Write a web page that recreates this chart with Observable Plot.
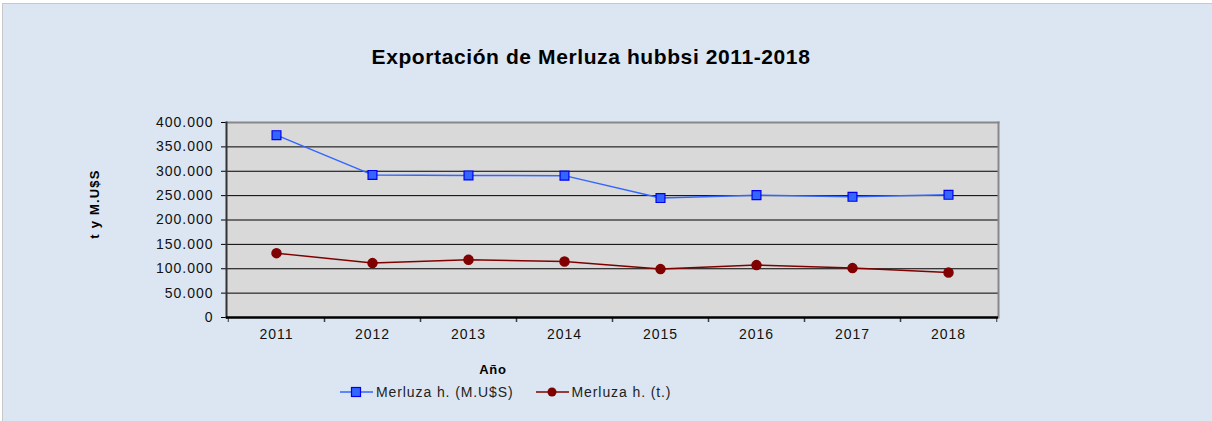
<!DOCTYPE html>
<html>
<head>
<meta charset="utf-8">
<script src="https://cdn.jsdelivr.net/npm/d3@7"></script>
<script src="https://cdn.jsdelivr.net/npm/@observablehq/plot@0.6"></script>
<style>
  html, body { margin: 0; padding: 0; background: #ffffff; }
  #wrap { position: relative; width: 1212px; height: 421px; overflow: hidden; font-family: "Liberation Sans", Arial, sans-serif; }
  #bg { position: absolute; left: 2px; top: 3px; width: 1210px; height: 418px; background: #dce6f2; border-left: 1px solid #c8c8c8; border-top: 1px solid #c8c8c8; box-sizing: border-box; }
  #title { position: absolute; left: 0; width: 1182px; top: 45px; text-align: center; font-weight: bold; font-size: 21px; letter-spacing: 0.6px; color: #000; }
  #ylab { position: absolute; left: 94px; top: 204px; transform: translate(-50%, -50%) rotate(-90deg); font-weight: bold; font-size: 13px; letter-spacing: 1.2px; white-space: nowrap; color: #000; }
  #chart { position: absolute; left: 0; top: 100px; }
  #xlab { position: absolute; left: 493px; top: 369px; transform: translate(-50%, -50%); font-weight: bold; font-size: 13px; letter-spacing: 0.8px; color: #000; }
  #legend { position: absolute; left: 340px; top: 384px; font-size: 14px; letter-spacing: 0.9px; color: #222; display: flex; align-items: center; }
  .item { display: flex; align-items: center; margin-right: 22px; }
</style>
</head>
<body>
<div id="wrap">
  <div id="bg"></div>
  <div id="title">Exportación de Merluza hubbsi 2011-2018</div>
  <div id="ylab">t y M.U$S</div>
  <div id="chart"></div>
  <div id="xlab">Año</div>
  <div id="legend"></div>
</div>
<script>
const years = ["2011","2012","2013","2014","2015","2016","2017","2018"];
const valueMUSS = [374000, 292500, 291400, 291000, 245000, 251000, 247600, 251700];
const tonnes = [132000, 111600, 118400, 115000, 99300, 107500, 101300, 92300];
const seriesNames = ["Merluza h. (M.U$S)", "Merluza h. (t.)"];
const yTicks = [0, 50000, 100000, 150000, 200000, 250000, 300000, 350000, 400000];

const blue = "#3366ff";
const blueEdge = "#0000ee";
const red = "#800000";

const rows = [];
years.forEach((y, i) => {
  rows.push({year: y, value: valueMUSS[i], series: seriesNames[0]});
  rows.push({year: y, value: tonnes[i], series: seriesNames[1]});
});
const blueRows = rows.filter(d => d.series === seriesNames[0]);
const redRows = rows.filter(d => d.series === seriesNames[1]);

const fmt = d3.formatLocale({decimal: ",", thousands: ".", grouping: [3], currency: ["", ""]}).format(",");

const W = 1212, mL = 226, mR = 214;
const half = (W - mL - mR) / years.length / 2;

const chart = Plot.plot({
  width: W,
  height: 280,
  marginTop: 22,
  marginBottom: 63,
  marginLeft: mL,
  marginRight: mR,
  style: {background: "transparent", fontFamily: "'Liberation Sans', Arial, sans-serif", fontSize: "14px", color: "#111"},
  x: {type: "point", domain: years, padding: 0.5, align: 0.5, label: null},
  y: {domain: [0, 400000], label: null},
  marks: [
    Plot.frame({fill: "#d9d9d9", stroke: null}),
    Plot.ruleY(yTicks.filter(t => t > 0 && t < 400000), {stroke: "#000", strokeWidth: 1}),
    Plot.axisY({ticks: yTicks, tickSize: 5, tickPadding: 8, tickFormat: fmt, fontSize: 14, stroke: "#000", fill: "#111", label: null}),
    Plot.axisX({tickSize: 0, tickPadding: 12, fontSize: 14, fill: "#111", label: null}),
    Plot.axisX({tickSize: 5, text: null, dx: -half, stroke: "#333", label: null}),
    Plot.axisX({tickSize: 5, text: null, dx: half, stroke: "#333", label: null}),
    Plot.frame({anchor: "top", stroke: "#888", strokeWidth: 2}),
    Plot.frame({anchor: "right", stroke: "#888", strokeWidth: 2}),
    Plot.frame({anchor: "left", stroke: "#333", strokeWidth: 2}),
    Plot.ruleY([0], {stroke: "#000", strokeWidth: 2.5}),
    Plot.line(blueRows, {x: "year", y: "value", stroke: blue, strokeWidth: 1.5}),
    Plot.line(redRows, {x: "year", y: "value", stroke: red, strokeWidth: 1.5}),
    Plot.dot(blueRows, {x: "year", y: "value", symbol: "square", r: 5, fill: blue, stroke: blueEdge, strokeWidth: 1.2}),
    Plot.dot(redRows, {x: "year", y: "value", symbol: "circle", r: 4.5, fill: red, stroke: red})
  ]
});
chart.querySelectorAll("[aria-label='y-axis tick label'] text, [aria-label='x-axis tick label'] text").forEach(t => t.setAttribute("letter-spacing", "1px"));
document.getElementById("chart").appendChild(chart);

// Legend
const legend = document.getElementById("legend");
const mk = (name, color, edge, shape) => {
  const item = document.createElement("div");
  item.className = "item";
  const s = d3.create("svg").attr("width", 34).attr("height", 12).style("margin-right", "2px");
  s.append("line").attr("x1", 0).attr("x2", 33).attr("y1", 6).attr("y2", 6).attr("stroke", color).attr("stroke-width", 1.5);
  if (shape === "square") s.append("rect").attr("x", 11.5).attr("y", 1.5).attr("width", 9).attr("height", 9).attr("fill", color).attr("stroke", edge).attr("stroke-width", 1.2);
  else s.append("circle").attr("cx", 16).attr("cy", 6).attr("r", 4.5).attr("fill", color);
  item.appendChild(s.node());
  const t = document.createElement("span");
  t.textContent = name;
  item.appendChild(t);
  legend.appendChild(item);
};
mk(seriesNames[0], blue, blueEdge, "square");
mk(seriesNames[1], red, red, "circle");
</script>
</body>
</html>
